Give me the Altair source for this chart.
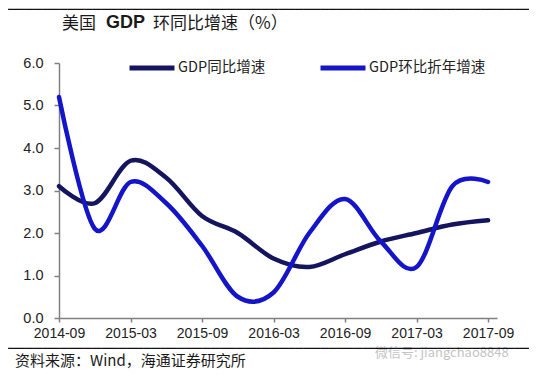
import altair as alt
import pandas as pd

quarters = ["2014-09", "2014-12", "2015-03", "2015-06", "2015-09", "2015-12", "2016-03",
            "2016-06", "2016-09", "2016-12", "2017-03", "2017-06", "2017-09"]
yoy = [3.1, 2.7, 3.7, 3.3, 2.4, 2.0, 1.4, 1.2, 1.5, 1.8, 2.0, 2.2, 2.3]
qoq = [5.2, 2.1, 3.2, 2.7, 1.7, 0.5, 0.6, 2.0, 2.8, 1.8, 1.2, 3.1, 3.2]
series_names = ["GDP同比增速", "GDP环比折年增速"]
series_colors = ["#14145f", "#1414c8"]
tick_idx = [0, 2, 4, 6, 8, 10, 12]
y_ticks = [0, 1, 2, 3, 4, 5, 6]

rows = []
for i, q in enumerate(quarters):
    rows.append({"q": i, "series": series_names[0], "value": yoy[i]})
    rows.append({"q": i, "series": series_names[1], "value": qoq[i]})
df = pd.DataFrame(rows)

label_expr = "[" + ",".join(f"'{l}'" for l in quarters) + "][datum.value]"
LAT = "Liberation Sans, Noto Sans CJK SC"
CJK = "Noto Sans CJK SC, Liberation Sans"

xscale = alt.Scale(domain=[0, 12.25], nice=False, zero=False)
yscale = alt.Scale(domain=[0, 6], nice=False)

lines = alt.Chart(df).mark_line(interpolate="cardinal", strokeWidth=4.5, strokeCap="round",
                                 strokeJoin="round").encode(
    x=alt.X("q:Q", scale=xscale,
            axis=alt.Axis(values=tick_idx, labelExpr=label_expr, title=None, grid=False,
                          domainColor="#808080", domainWidth=1.5, tickColor="#808080",
                          tickWidth=1.5, tickSize=4, labelFontSize=14, labelFont=LAT,
                          labelColor="#222222", labelPadding=4, labelFlush=False,
                          labelOverlap=False)),
    y=alt.Y("value:Q", scale=yscale,
            axis=alt.Axis(values=y_ticks, format=".1f", title=None, grid=False,
                          domainColor="#808080", domainWidth=1.5, tickColor="#808080",
                          tickWidth=1.5, tickSize=5, labelFontSize=14.5, labelFont=LAT,
                          labelColor="#222222", labelPadding=11)),
    color=alt.Color("series:N", sort=series_names,
                    scale=alt.Scale(domain=series_names, range=series_colors),
                    legend=alt.Legend(orient="none", legendX=68, legendY=-20,
                                      direction="horizontal", title=None,
                                      symbolType="stroke", symbolSize=2025,
                                      symbolStrokeWidth=5, labelFontSize=14.5,
                                      labelFont=CJK, labelColor="#222222",
                                      labelOffset=1, columnPadding=44)),
    order=alt.Order("q:Q"),
)

one = pd.DataFrame({"k": [0]})

def text(t, x, y, size, weight="normal", color="#1a1a1a", font=CJK):
    return alt.Chart(one).mark_text(text=t, align="left", baseline="middle", fontSize=size,
                                    fontWeight=weight, color=color, font=font).encode(
        x=alt.value(x), y=alt.value(y))

title1 = text("美国", 3, -39, 17)
title2 = text("GDP", 47, -40, 18, weight="bold", font=LAT)
title3 = text("环同比增速（%）", 94, -39, 17)
source = text("资料来源：Wind，海通证券研究所", -44, 298, 15)
water = text("微信号: jiangchao8848", 316, 290, 13, color="#c4c4c4")

# separator lines above the title and below the axis (drawn as box-drawing text)
bar = "\u2500" * 66
top_line = text(bar, -59, -53, 14, color="#111111", font="DejaVu Sans Mono")
bot_line = text(bar, -59, 286, 14, color="#111111", font="DejaVu Sans Mono")

chart = alt.layer(lines, title1, title2, title3, source, water, top_line, bot_line).properties(
    width=438, height=255,
    padding={"left": 51, "top": 55, "right": 32, "bottom": 52},
    autosize=alt.AutoSizeParams(type="none"),
    background="white",
).configure_view(stroke=None)

chart.save("out.html", embed_options={"renderer": "svg", "actions": False})
